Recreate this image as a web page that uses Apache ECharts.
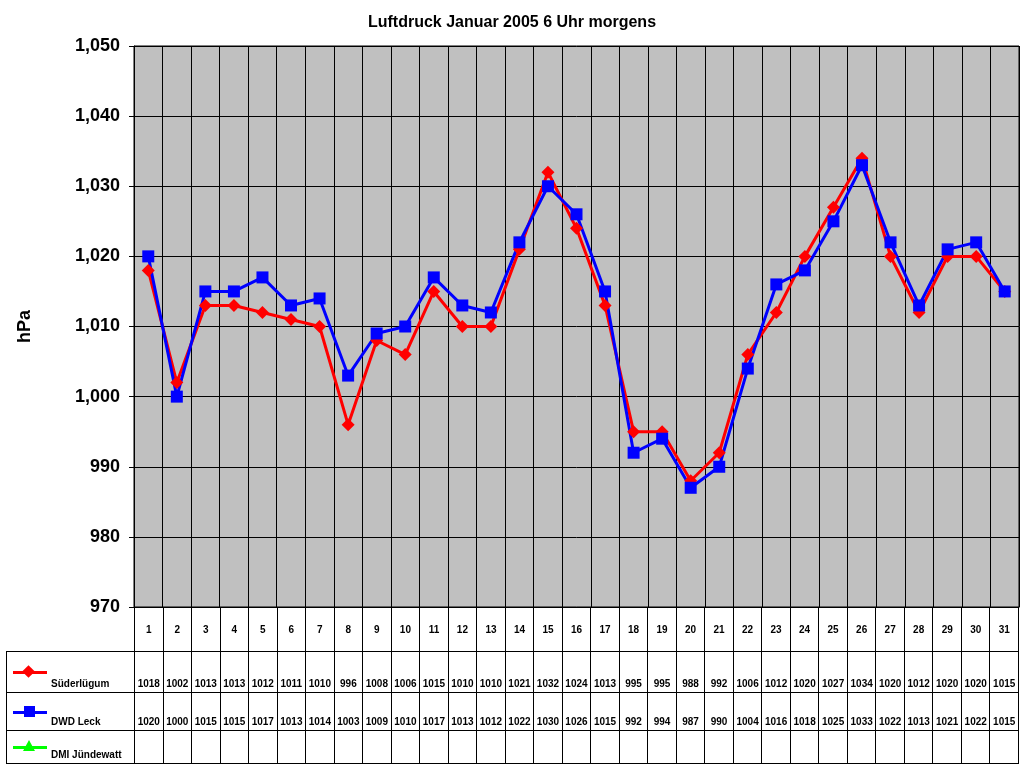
<!DOCTYPE html>
<html><head><meta charset="utf-8">
<script src="https://cdn.jsdelivr.net/npm/echarts@6/dist/echarts.min.js"></script>
<style>
body{margin:0;background:#fff;font-family:Arial,"Liberation Sans",sans-serif}
#chart{position:absolute;left:0;top:0;width:1024px;height:768px}
#tbl{position:absolute;left:6px;top:607px;border-collapse:collapse;table-layout:fixed;width:1013px}
#tbl td{border:1px solid #000;font-size:10px;font-weight:bold;text-align:center;padding:0;overflow:hidden;white-space:nowrap}
#tbl td.v{vertical-align:bottom;padding-bottom:3px}
#tbl td.lg{text-align:left;border-left:1px solid #000;position:relative}
.lg span.t{position:absolute;left:44px;bottom:3px}
.ln{position:absolute;left:6px;top:50%;width:34px;height:3px;margin-top:-1px}
.mk{position:absolute;left:17px;top:50%}
</style></head><body>
<div id="chart"></div>
<table id="tbl"></table>
<script>
const days = Array.from({length: 31}, (_, i) => String(i + 1))
const suederluegum = [1018,1002,1013,1013,1012,1011,1010,996,1008,1006,1015,1010,1010,1021,1032,1024,1013,995,995,988,992,1006,1012,1020,1027,1034,1020,1012,1020,1020,1015]
const dwdLeck = [1020,1000,1015,1015,1017,1013,1014,1003,1009,1010,1017,1013,1012,1022,1030,1026,1015,992,994,987,990,1004,1016,1018,1025,1033,1022,1013,1021,1022,1015]
const dmiJuendewatt = []

const chart = echarts.init(document.getElementById('chart'))
chart.setOption({
  animation: false,
  title: {
    text: 'Luftdruck Januar 2005 6 Uhr morgens', left: 'center', top: 10,
    textStyle: { fontSize: 16, fontWeight: 'bold', color: '#000', fontFamily: 'Arial' }
  },
  grid: { left: 134, right: 5, top: 46, bottom: 161, backgroundColor: '#c0c0c0', show: true, borderColor: '#000', borderWidth: 1 },
  xAxis: {
    type: 'category', data: days, boundaryGap: true,
    axisLabel: { show: false }, axisTick: { show: false },
    axisLine: { lineStyle: { color: '#000' } },
    splitLine: { show: true, lineStyle: { color: '#000', width: 1 } }
  },
  yAxis: {
    type: 'value', min: 970, max: 1050, interval: 10,
    name: 'hPa', nameLocation: 'middle', nameGap: 100, nameRotate: 90,
    nameTextStyle: { fontSize: 18, fontWeight: 'bold', color: '#000', fontFamily: 'Arial' },
    axisLabel: { fontSize: 18, fontWeight: 'bold', color: '#000', fontFamily: 'Arial', margin: 14 },
    axisLine: { show: true, lineStyle: { color: '#000' } },
    axisTick: { show: true, lineStyle: { color: '#000' } },
    splitLine: { lineStyle: { color: '#000', width: 1 } }
  },
  series: [
    { name: 'Süderlügum', type: 'line', data: suederluegum, symbol: 'diamond', symbolSize: 13,
      lineStyle: { color: '#ff0000', width: 3 }, itemStyle: { color: '#ff0000' } },
    { name: 'DWD Leck', type: 'line', data: dwdLeck, symbol: 'rect', symbolSize: 12,
      lineStyle: { color: '#0000ff', width: 3 }, itemStyle: { color: '#0000ff' } },
    { name: 'DMI Jündewatt', type: 'line', data: dmiJuendewatt, symbol: 'triangle', symbolSize: 12,
      lineStyle: { color: '#00ff00', width: 3 }, itemStyle: { color: '#00ff00' } }
  ]
})

// data table below the plot
const rows = [
  { name: null, vals: days, h: 44 },
  { name: 'Süderlügum', vals: suederluegum, h: 41, color: '#ff0000',
    mk: '<div class="mk" style="width:9px;height:9px;background:#ff0000;transform:translate(0,-5px) rotate(45deg)"></div>' },
  { name: 'DWD Leck', vals: dwdLeck, h: 38, color: '#0000ff',
    mk: '<div class="mk" style="width:11px;height:11px;background:#0000ff;transform:translate(0,-6px)"></div>' },
  { name: 'DMI Jündewatt', vals: days.map(() => ''), h: 33, color: '#00ff00',
    mk: '<div class="mk" style="width:0;height:0;border-left:6px solid transparent;border-right:6px solid transparent;border-bottom:11px solid #00ff00;transform:translate(-1px,-7px)"></div>' }
]
let html = '<colgroup><col style="width:128px">' + days.map(() => '<col>').join('') + '</colgroup>'
rows.forEach((r, i) => {
  html += `<tr style="height:${r.h}px">`
  if (r.name) {
    html += `<td class="lg"><div class="ln" style="background:${r.color}"></div>${r.mk}<span class="t">${r.name}</span></td>`
    html += r.vals.map(v => `<td class="v">${v}</td>`).join('')
  } else {
    html += '<td style="border-top:none;border-left:none"></td>' + r.vals.map(v => `<td>${v}</td>`).join('')
  }
  html += '</tr>'
})
document.getElementById('tbl').innerHTML = html
</script>
</body></html>
